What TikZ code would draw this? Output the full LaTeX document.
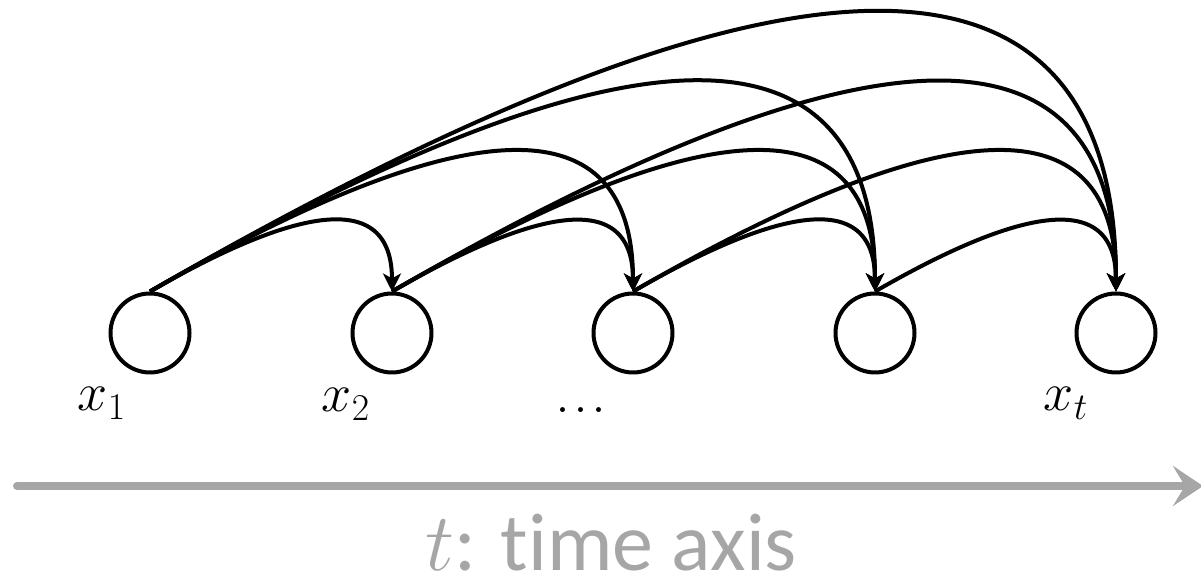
\RequirePackage{fix-cm}
\documentclass[tikz,border=0pt]{standalone}
\usepackage{fontspec}
\setsansfont{Carlito}[Ligatures=NoCommon]
\usetikzlibrary{arrows.meta}
\definecolor{axisgray}{HTML}{A6A6A6}

\begin{document}
\begin{tikzpicture}[x=0.5pt,y=0.5pt,
  var/.style={circle, draw, line width=2pt, minimum size=39.5pt, inner sep=0pt},
  link/.style={-{Stealth[length=9pt,width=9pt,inset=2.5pt]}, line width=2pt,
               out=30, in=90, looseness=1.28},
  lbl/.style={anchor=base, inner sep=0pt, font=\fontsize{27}{32}\selectfont},
  timeaxis/.style={line width=4pt, draw=axisgray, line cap=round,
                   -{Stealth[length=15pt,width=20pt,inset=6pt]}}]
  \useasboundingbox (0,0) rectangle (1201,577);

  % sequence elements
  \node[var] (n1) at (150,244) {};
  \node[var] (n2) at (392,244) {};
  \node[var] (n3) at (633,244) {};
  \node[var] (n4) at (875,244) {};
  \node[var] (n5) at (1116,244) {};

  % labels under the elements
  \node[lbl] (l1) at (102,166) {$x_1$};
  \node[lbl] (l2) at (346,165) {$x_2$};
  \node[lbl] (l3) at (581,164) {\fontsize{30}{34}\selectfont .\kern1.5pt.\kern1.5pt.};
  \node[lbl] (l5) at (1066,166) {$x_t$};

  % dependencies from every element to all later ones
  \foreach \i/\j in {1/2,1/3,1/4,1/5,2/3,2/4,2/5,3/4,3/5,4/5}
    \draw[link] (n\i.north) to (n\j.north);

  % time axis
  \coordinate (ta) at (17,91);
  \coordinate (tb) at (1203,91);
  \draw[timeaxis] (ta) -- (tb);
  \node[anchor=base, inner sep=0pt, text=axisgray, font=\fontsize{41}{48}\selectfont]
    (cap) at (611,6) {$t$\sffamily: time axis};
\end{tikzpicture}
\end{document}
